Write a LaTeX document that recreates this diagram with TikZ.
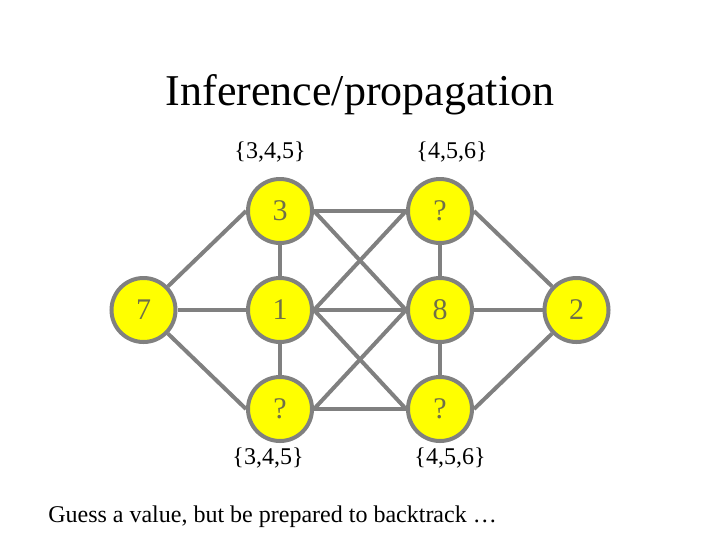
\documentclass[tikz,border=0pt]{standalone}
\usepackage{fontspec}
\setmainfont{Liberation Serif}
\usepackage{tikz}

\begin{document}
\begin{tikzpicture}[x=0.75pt,y=0.75pt,yscale=-1,xscale=1,
  var/.style={circle,draw={rgb, 255:red, 128; green, 128; blue, 128},line width=3pt,
    fill={rgb, 255:red, 255; green, 255; blue, 0},minimum size=48pt,inner sep=0pt,
    text={rgb, 255:red, 112; green, 112; blue, 72},font=\fontsize{22.5}{27}\selectfont},
  link/.style={draw={rgb, 255:red, 128; green, 128; blue, 128},line width=3pt},
  dom/.style={inner sep=0pt,font=\fontsize{18}{22}\selectfont}]
%set diagram size to 720 x 540
\useasboundingbox (0,0) rectangle (720,540);

% Title
\node[inner sep=0pt,font=\fontsize{33}{40}\selectfont] (title) at (360,95) {Inference/propagation};

%Shape: Circles
\node[var] (v7) at (143.5,310) {7};
\node[var] (v3) at (280,211) {3};
\node[var] (v1) at (280,310) {1};
\node[var] (vq1) at (280,409) {?};
\node[var] (vq2) at (440,211) {?};
\node[var] (v8) at (440,310) {8};
\node[var] (vq3) at (440,409) {?};
\node[var] (v2) at (576.5,310) {2};

%Straight Lines: left
\draw[link] (v7) -- (v3.west);
\draw[link] (v7) -- (v1.west);
\draw[link] (v7) -- (vq1.west);
\draw[link] (v3) -- (v1);
\draw[link] (v1) -- (vq1);
%Straight Lines: middle
\draw[link] (v3.east) -- (vq2.west);
\draw[link] (v3.east) -- (v8.west);
\draw[link] (v1.east) -- (vq2.west);
\draw[link] (v1.east) -- (v8.west);
\draw[link] (v1.east) -- (vq3.west);
\draw[link] (vq1.east) -- (v8.west);
\draw[link] (vq1.east) -- (vq3.west);
%Straight Lines: right
\draw[link] (vq2) -- (v8);
\draw[link] (v8) -- (vq3);
\draw[link] (vq2.east) -- (v2);
\draw[link] (v8.east) -- (v2);
\draw[link] (vq3.east) -- (v2);

% Text Node
\node[dom] (d3top) at (270,152) {\{3,4,5\}};
\node[dom] (d6top) at (452,152) {\{4,5,6\}};
\node[dom] (d3bot) at (268,458) {\{3,4,5\}};
\node[dom] (d6bot) at (450,458) {\{4,5,6\}};
% Text Node
\node[dom,anchor=west] (note) at (48,517) {Guess a value, but be prepared to backtrack …};

\end{tikzpicture}
\end{document}
